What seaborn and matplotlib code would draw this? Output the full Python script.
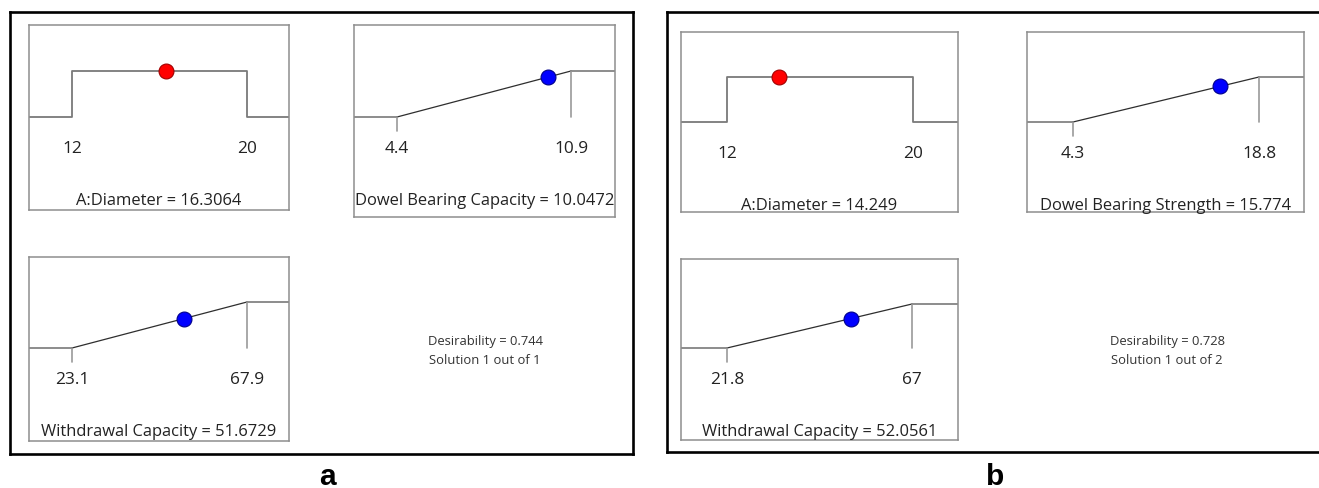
import matplotlib
matplotlib.use("Agg")
import matplotlib.pyplot as plt
from matplotlib.transforms import blended_transform_factory
import numpy as np
import pandas as pd
import seaborn as sns

sns.set_style("white")
plt.rcParams["font.family"] = ["Open Sans", "DejaVu Sans"]

# ---- optimisation results (two scenarios) ----
factor_names = ["A:Diameter", "A:Diameter"]
factor_low = [12, 12]
factor_high = [20, 20]
factor_value = [16.3064, 14.249]

bearing_names = ["Dowel Bearing Capacity", "Dowel Bearing Strength"]
bearing_low = [4.4, 4.3]
bearing_high = [10.9, 18.8]
bearing_value = [10.0472, 15.774]

withdrawal_names = ["Withdrawal Capacity", "Withdrawal Capacity"]
withdrawal_low = [23.1, 21.8]
withdrawal_high = [67.9, 67]
withdrawal_value = [51.6729, 52.0561]

desirability = [0.744, 0.728]
solution_no = [1, 1]
solution_total = [1, 2]
panel_tags = ["a", "b"]

value_fmt = [["{:.4f}", "{:.4f}", "{:.4f}"], ["{:.3f}", "{:.3f}", "{:.4f}"]]

# ---- layout (pixels) ----
W, H = 1319, 489
fig = plt.figure(figsize=(W / 100, H / 100), dpi=100)


def fig_rect(l, t, r, b):
    return [l / W, 1 - b / H, (r - l) / W, (b - t) / H]


# box: (left, top, right, bottom, x_lo_px, x_hi_px, y_one_px, y_zero_px)
layout = [
    {"border": (10, 13, 633, 455), "tag": (327, 485), "note": (485, 342),
     "boxes": [(29, 26, 289, 211, 72, 247, 72, 118),
               (354, 26, 615, 218, 397, 571, 72, 118),
               (29, 258, 289, 442, 72, 247, 303, 349)]},
    {"border": (667, 13, 1325, 453), "tag": (995, 485), "note": (1167, 342),
     "boxes": [(681, 33, 958, 213, 727, 913, 78, 123),
               (1027, 33, 1304, 213, 1073, 1259, 78, 123),
               (681, 260, 958, 441, 727, 912, 305, 349)]},
]

TEXT = "#222222"
FRAME = "#8e8e8e"
FLAT = "#6e6e6e"
SLOPE = "#2e2e2e"
TICK = "#9a9a9a"


def seg(ax, xs, ds, color, lw):
    df = pd.DataFrame({"x": xs, "d": ds})
    sns.lineplot(data=df, x="x", y="d", ax=ax, sort=False, estimator=None,
                 color=color, lw=lw)


def draw_box(geom, name, lo, hi, val, fmt, kind, dot_color, edge_color):
    l, t, r, b, xlo, xhi, y1, y0 = geom
    ax = fig.add_axes(fig_rect(l, t, r, b))
    ppu = (xhi - xlo) / (hi - lo)
    ppd = y0 - y1
    xmin = lo - (xlo - l) / ppu
    xmax = hi + (r - xhi) / ppu
    ax.set_xlim(xmin, xmax)
    ax.set_ylim(-(b - y0) / ppd, 1 + (y1 - t) / ppd)

    if kind == "range":
        seg(ax, [xmin, lo, lo, hi, hi, xmax], [0, 0, 1, 1, 0, 0], "#7a7a7a", 1.3)
        d_val = 1.0 if lo <= val <= hi else 0.0
    else:
        seg(ax, [xmin, lo], [0, 0], FLAT, 1.1)
        seg(ax, [hi, xmax], [1, 1], FLAT, 1.1)
        seg(ax, [lo, hi], [0, 1], SLOPE, 0.9)
        seg(ax, [hi, hi], [1, 0], TICK, 1.2)
        seg(ax, [lo, lo], [0, -14 / ppd], TICK, 1.2)
        d_val = float(np.clip((val - lo) / (hi - lo), 0, 1))

    sns.scatterplot(x=[val], y=[d_val], ax=ax, s=115, color=dot_color,
                    edgecolor=edge_color, linewidth=0.8, zorder=5)

    lab_y = -31 / ppd
    ax.text(lo, lab_y, f"{lo:g}", ha="center", va="center", fontsize=12.4, color=TEXT)
    ax.text(hi, lab_y, f"{hi:g}", ha="center", va="center", fontsize=12.4, color=TEXT)
    ax.text(0.5, -83 / ppd, f"{name} = " + fmt.format(val), ha="center", va="center",
            fontsize=11.9, color=TEXT,
            transform=blended_transform_factory(ax.transAxes, ax.transData))

    ax.set_xticks([])
    ax.set_yticks([])
    ax.set_xlabel("")
    ax.set_ylabel("")
    for s in ax.spines.values():
        s.set_color(FRAME)
        s.set_linewidth(1.1)
    return ax


for i, lay in enumerate(layout):
    # panel frame
    frame = fig.add_axes(fig_rect(*lay["border"]))
    frame.set_xticks([])
    frame.set_yticks([])
    frame.patch.set_alpha(0)
    for s in frame.spines.values():
        s.set_color("black")
        s.set_linewidth(1.9)
    frame.set_zorder(0)

    g1, g2, g3 = lay["boxes"]
    draw_box(g1, factor_names[i], factor_low[i], factor_high[i], factor_value[i],
             value_fmt[i][0], "range", "#ff0000", "#a00000")
    draw_box(g2, bearing_names[i], bearing_low[i], bearing_high[i], bearing_value[i],
             value_fmt[i][1], "max", "#0000ff", "#00008a")
    draw_box(g3, withdrawal_names[i], withdrawal_low[i], withdrawal_high[i],
             withdrawal_value[i], value_fmt[i][2], "max", "#0000ff", "#00008a")

    nx, ny = lay["note"]
    fig.text(nx / W, 1 - ny / H, f"Desirability = {desirability[i]:.3f}",
             ha="center", va="center", fontsize=9.4, color="#333333")
    fig.text(nx / W, 1 - (ny + 19) / H,
             f"Solution {solution_no[i]} out of {solution_total[i]}",
             ha="center", va="center", fontsize=9.4, color="#333333")

    tx, ty = lay["tag"]
    fig.text(tx / W, 1 - ty / H, panel_tags[i], ha="center", va="baseline",
             fontsize=21.5, fontweight="bold", color="black",
             family=["Liberation Sans", "DejaVu Sans"])

fig.savefig("out.png", dpi=100)
